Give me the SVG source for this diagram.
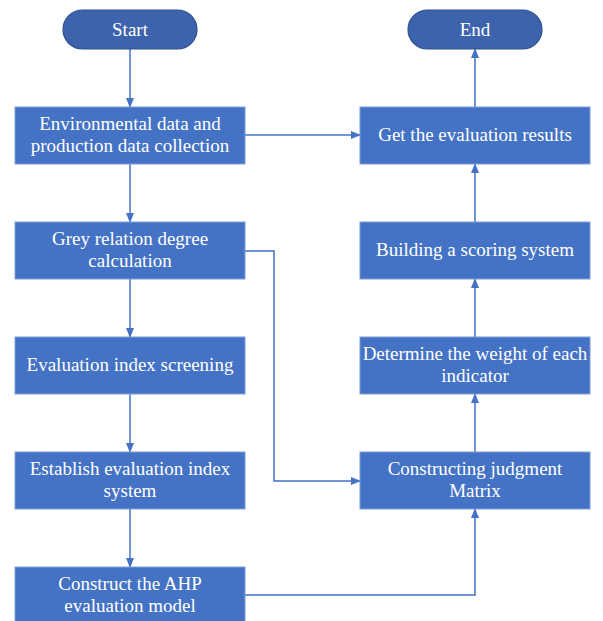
<svg xmlns="http://www.w3.org/2000/svg" width="603" height="621" viewBox="0 0 603 621">
<style>
.box{fill:#4472C4;stroke:#7F9DD6;stroke-width:1}
.pill{fill:#3E63AD;stroke:#2F528F;stroke-width:1.2}
.t{font-family:'Liberation Serif','DejaVu Serif',serif;font-size:19px;fill:#FFFFFF;text-anchor:middle}
.c{fill:none;stroke:#4472C4;stroke-width:1.5;marker-end:url(#ah)}
</style>
<defs>
<marker id="ah" markerWidth="10" markerHeight="10" refX="9" refY="5" orient="auto" markerUnits="userSpaceOnUse">
<path d="M0,1 L10,5 L0,9 Z" fill="#4472C4"/>
</marker>
</defs>
<rect width="603" height="621" fill="#FFFFFF"/>
<g id="connectors">
<line class="c" x1="130" y1="49" x2="130" y2="107"/>
<line class="c" x1="130" y1="164" x2="130" y2="222"/>
<line class="c" x1="130" y1="279" x2="130" y2="337"/>
<line class="c" x1="130" y1="394" x2="130" y2="452"/>
<line class="c" x1="130" y1="509" x2="130" y2="567"/>
<line class="c" x1="245" y1="135" x2="360" y2="135"/>
<polyline class="c" points="245,251 274,251 274,481 360,481"/>
<polyline class="c" points="245,595 475,595 475,509"/>
<line class="c" x1="475" y1="452" x2="475" y2="394"/>
<line class="c" x1="475" y1="337" x2="475" y2="279"/>
<line class="c" x1="475" y1="222" x2="475" y2="164"/>
<line class="c" x1="475" y1="107" x2="475" y2="49"/>
</g>
<g id="start"><rect class="pill" x="63" y="10" width="134" height="39" rx="19.5"/><text class="t" x="130" y="36">Start</text></g>
<g id="end"><rect class="pill" x="408" y="10" width="134" height="39" rx="19.5"/><text class="t" x="475" y="36">End</text></g>
<g id="n1"><rect class="box" x="15" y="107" width="230" height="57"/><text class="t" x="130" y="130">Environmental data and</text><text class="t" x="130" y="152">production data collection</text></g>
<g id="n2"><rect class="box" x="15" y="222" width="230" height="57"/><text class="t" x="130" y="245">Grey relation degree</text><text class="t" x="130" y="267">calculation</text></g>
<g id="n3"><rect class="box" x="15" y="337" width="230" height="57"/><text class="t" x="130" y="371">Evaluation index screening</text></g>
<g id="n4"><rect class="box" x="15" y="452" width="230" height="57"/><text class="t" x="130" y="475">Establish evaluation index</text><text class="t" x="130" y="497">system</text></g>
<g id="n5"><rect class="box" x="15" y="567" width="230" height="57"/><text class="t" x="130" y="590">Construct the AHP</text><text class="t" x="130" y="612">evaluation model</text></g>
<g id="n6"><rect class="box" x="360" y="107" width="230" height="57"/><text class="t" x="475" y="141">Get the evaluation results</text></g>
<g id="n7"><rect class="box" x="360" y="222" width="230" height="57"/><text class="t" x="475" y="256">Building a scoring system</text></g>
<g id="n8"><rect class="box" x="360" y="337" width="230" height="57"/><text class="t" x="475" y="360">Determine the weight of each</text><text class="t" x="475" y="382">indicator</text></g>
<g id="n9"><rect class="box" x="360" y="452" width="230" height="57"/><text class="t" x="475" y="475">Constructing judgment</text><text class="t" x="475" y="497">Matrix</text></g>
</svg>
